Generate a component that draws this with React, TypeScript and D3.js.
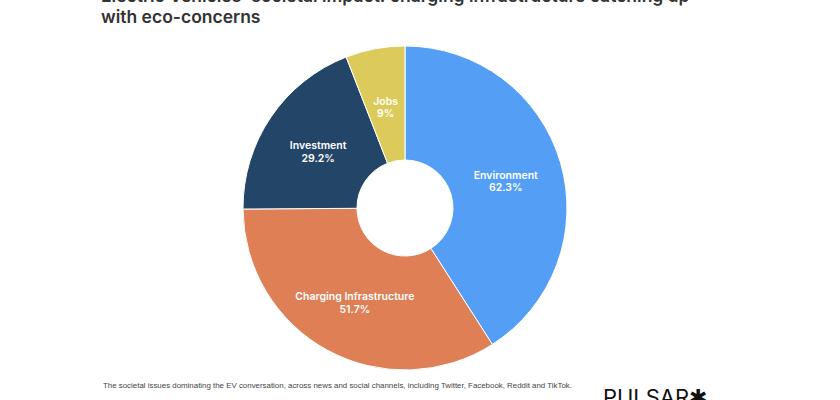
import React, { useEffect, useRef } from 'react';
import * as d3 from 'd3';

const categories = ['Environment', 'Charging Infrastructure', 'Investment', 'Jobs'];
const values = [62.3, 51.7, 29.2, 9];
const colors = ['#559ef5', '#de7f56', '#234668', '#dccb5b'];

const titleLines = [
  "Electric Vehicles' societal impact: charging infrastructure catching up",
  'with eco-concerns',
];
const footnote =
  'The societal issues dominating the EV conversation, across news and social channels, including Twitter, Facebook, Reddit and TikTok.';

const App = () => {
  const svgRef = useRef<SVGSVGElement>(null);

  useEffect(() => {
    const svg = d3.select(svgRef.current)
      .attr('width', 840)
      .attr('height', 400);
    svg.selectAll('*').remove();

    const font = 'Inter, "Noto Sans", sans-serif';

    // title (first line cut by the top edge)
    svg.selectAll('.title')
      .data(titleLines)
      .enter()
      .append('text')
      .attr('class', 'title')
      .attr('x', 101)
      .attr('y', (d, i) => 2 + i * 21)
      .attr('fill', '#333')
      .style('font-family', font)
      .style('font-size', '17.5px')
      .style('font-weight', 600)
      .text(d => d);

    const data = categories.map((c, i) => ({ name: c, value: values[i], color: colors[i] }));

    const pie = d3.pie<any>()
      .sort(null)
      .value(d => d.value);

    const arc = d3.arc<any>()
      .innerRadius(48)
      .outerRadius(162);

    const g = svg.append('g')
      .attr('transform', 'translate(405, 208)');

    const arcs = pie(data);

    g.selectAll('.slice')
      .data(arcs)
      .enter()
      .append('path')
      .attr('class', 'slice')
      .attr('d', arc)
      .attr('fill', d => d.data.color)
      .attr('stroke', '#fff')
      .attr('stroke-width', 1);

    // two-line labels at each slice centroid
    const labelStyle = (sel: any) => sel
      .attr('text-anchor', 'middle')
      .attr('fill', '#fff')
      .style('font-family', font)
      .style('font-size', '10.5px')
      .style('font-weight', 600);

    g.selectAll('.name')
      .data(arcs)
      .enter()
      .append('text')
      .attr('class', 'name')
      .attr('x', d => arc.centroid(d)[0])
      .attr('y', d => arc.centroid(d)[1])
      .call(labelStyle)
      .text(d => d.data.name);

    g.selectAll('.pct')
      .data(arcs)
      .enter()
      .append('text')
      .attr('class', 'pct')
      .attr('x', d => arc.centroid(d)[0])
      .attr('y', d => arc.centroid(d)[1] + 12.5)
      .call(labelStyle)
      .text(d => `${d.data.value}%`);

    // footnote
    svg.append('text')
      .attr('x', 103)
      .attr('y', 388)
      .attr('fill', '#444')
      .attr('textLength', 469)
      .attr('lengthAdjust', 'spacingAndGlyphs')
      .style('font-family', '"Liberation Sans", Arial, sans-serif')
      .style('font-size', '7px')
      .text(footnote);

    // logo, cut by the bottom edge
    svg.append('text')
      .attr('x', 603)
      .attr('y', 405)
      .attr('fill', '#111')
      .attr('textLength', 104)
      .attr('lengthAdjust', 'spacingAndGlyphs')
      .style('font-family', font)
      .style('font-size', '22px')
      .style('font-weight', 400)
      .text('PULSAR\u2731');
  }, []);

  return <svg ref={svgRef} style={{ position: 'absolute', left: 0, top: 0 }}></svg>;
};

export default App;
